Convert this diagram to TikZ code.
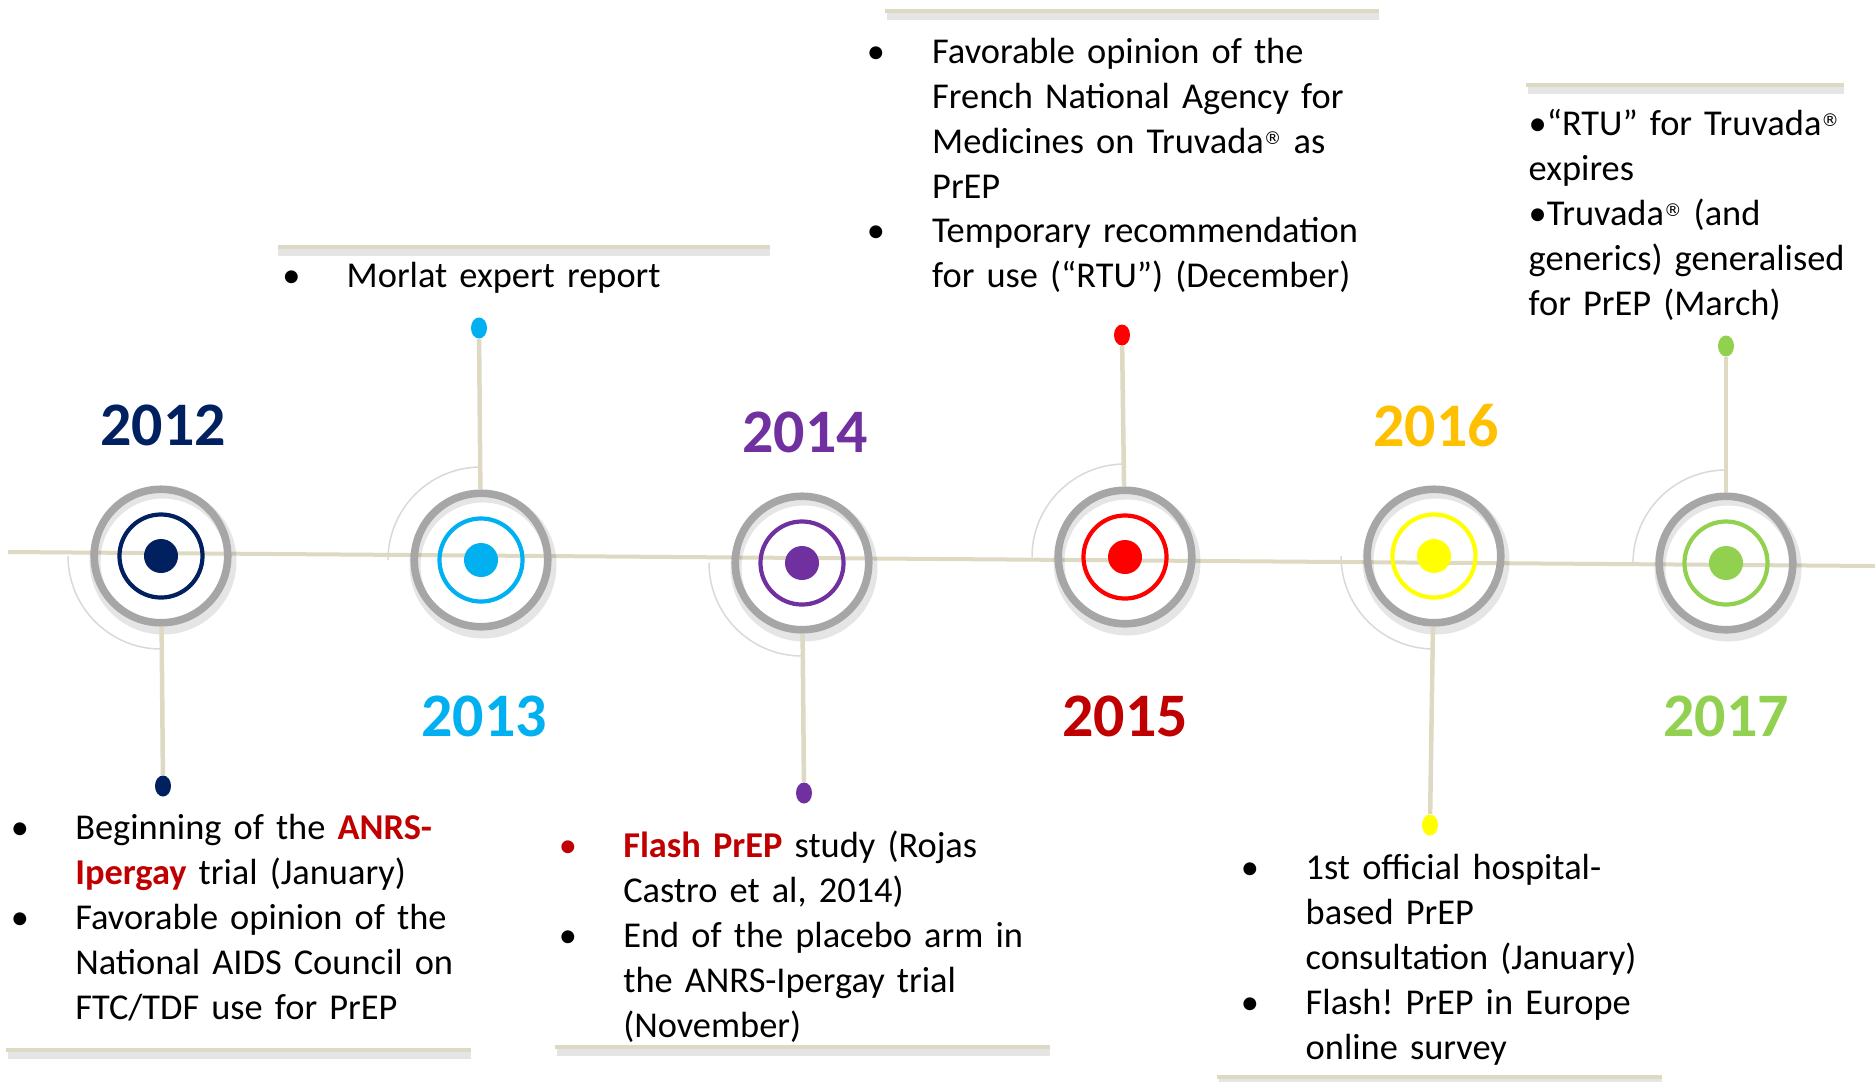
\documentclass[tikz,border=0pt]{standalone}
\usepackage{fontspec}
\setmainfont{Carlito}
\newfontfamily\regfont{DejaVu Sans}
\usetikzlibrary{shapes.geometric}

\definecolor{tlbeige}{HTML}{DDD9C3}
\definecolor{ringgray}{HTML}{A6A6A6}
\definecolor{arcgray}{HTML}{D9D9D9}
\definecolor{col12}{HTML}{002060}
\definecolor{col13}{HTML}{00B0F0}
\definecolor{col14}{HTML}{7030A0}
\definecolor{col15}{HTML}{FF0000}
\definecolor{col16}{HTML}{FFFF00}
\definecolor{col17}{HTML}{92D050}
\definecolor{txt15}{HTML}{C00000}
\definecolor{txt16}{HTML}{FFC000}
\definecolor{hilite}{HTML}{C00000}

\newcommand{\regmark}{\raisebox{2.3pt}{\regfont\fontsize{5}{5}\selectfont ®}}
\newcommand{\redbold}[1]{\textcolor{hilite}{\bfseries #1}}
\frenchspacing

\begin{document}
\begin{tikzpicture}[x=0.01cm, y=-0.01cm,
    ring/.style={circle, draw=ringgray, line width=0.076cm, minimum size=1.334cm, inner sep=0pt},
    ringshade/.style={draw=black, opacity=0.10, line width=0.11cm},
    inring/.style={circle, draw=#1, line width=0.042cm, minimum size=0.83cm, inner sep=0pt},
    core/.style={circle, fill=#1, minimum size=0.34cm, inner sep=0pt},
    tipdot/.style={ellipse, fill=#1, minimum width=0.16cm, minimum height=0.21cm, inner sep=0pt},
    stem/.style={draw=tlbeige, line width=0.045cm},
    timeline/.style={draw=tlbeige, line width=0.04cm},
    halo/.style={draw=arcgray, line width=0.015cm},
    divider/.style={draw=tlbeige, line width=0.043cm},
    divshade/.style={draw=black, opacity=0.10, line width=0.07cm},
    year/.style={font=\fontsize{17.6}{20}\selectfont\bfseries, text=#1, inner sep=0pt},
    txt/.style={font=\fontsize{10.35}{12.8}\selectfont, anchor=base west, inner sep=0pt, align=left, text width=6cm},
    bul/.style={font=\fontsize{10.35}{12.8}\selectfont, anchor=base, inner sep=0pt}]
\useasboundingbox (0,0) rectangle (1875,1081);

% timeline axis
\coordinate (tlstart) at (8,552);
\coordinate (tlend) at (1875,566);
\draw[timeline] (tlstart) -- (tlend);

% quarter arcs round the rings
\draw[halo] (161,556) ++(-93,0) arc[start angle=180, end angle=90, radius=93];
\draw[halo] (481,560) ++(-93,0) arc[start angle=180, end angle=270, radius=93];
\draw[halo] (802,563) ++(-93,0) arc[start angle=180, end angle=90, radius=93];
\draw[halo] (1125,557) ++(-93,0) arc[start angle=180, end angle=270, radius=93];
\draw[halo] (1434,556) ++(-93,0) arc[start angle=180, end angle=90, radius=93];
\draw[halo] (1726,563) ++(-93,0) arc[start angle=180, end angle=270, radius=93];

% ring shadows
\draw[ringshade] (163,561) circle[radius=68];
\draw[ringshade] (483,565) circle[radius=68];
\draw[ringshade] (804,568) circle[radius=68];
\draw[ringshade] (1127,562) circle[radius=68];
\draw[ringshade] (1436,561) circle[radius=68];
\draw[ringshade] (1728,568) circle[radius=68];

% 2012
\node[ring] (ring12) at (161,556) {};
\node[inring=col12] (band12) at (ring12) {};
\node[core=col12] (hub12) at (ring12) {};
\node[year=col12] (yr12) at (163,425.5) {2012};
\node[tipdot=col12] (tip12) at (163,786) {};
\draw[stem] (ring12) -- (tip12);

% 2013
\node[ring] (ring13) at (481,560) {};
\node[inring=col13] (band13) at (ring13) {};
\node[core=col13] (hub13) at (ring13) {};
\node[year=col13] (yr13) at (484,716) {2013};
\node[tipdot=col13] (tip13) at (479,328) {};
\draw[stem] (ring13) -- (tip13);

% 2014
\node[ring] (ring14) at (802,563) {};
\node[inring=col14] (band14) at (ring14) {};
\node[core=col14] (hub14) at (ring14) {};
\node[year=col14] (yr14) at (805,432.5) {2014};
\node[tipdot=col14] (tip14) at (804,793) {};
\draw[stem] (ring14) -- (tip14);

% 2015
\node[ring] (ring15) at (1125,557) {};
\node[inring=col15] (band15) at (ring15) {};
\node[core=col15] (hub15) at (ring15) {};
\node[year=txt15] (yr15) at (1125,716) {2015};
\node[tipdot=col15] (tip15) at (1122,335) {};
\draw[stem] (ring15) -- (tip15);

% 2016
\node[ring] (ring16) at (1434,556) {};
\node[inring=col16] (band16) at (ring16) {};
\node[core=col16] (hub16) at (ring16) {};
\node[year=txt16] (yr16) at (1436,425.5) {2016};
\node[tipdot=col16] (tip16) at (1430,825) {};
\draw[stem] (ring16) -- (tip16);

% 2017
\node[ring] (ring17) at (1726,563) {};
\node[inring=col17] (band17) at (ring17) {};
\node[core=col17] (hub17) at (ring17) {};
\node[year=col17] (yr17) at (1726,716) {2017};
\node[tipdot=col17] (tip17) at (1726,346) {};
\draw[stem] (ring17) -- (tip17);

% text blocks and their rules
\draw[divshade] (8,1055) -- (471,1055);
\draw[divider] (6,1050) -- (471,1050);
\node[bul] (b12a) at (20,839) {•};
\node[txt] (t12a) at (74.6,839) {Beginning of the \redbold{ANRS-}\\\redbold{Ipergay} trial (January)};
\node[bul] (b12b) at (20,929) {•};
\node[txt] (t12b) at (74.6,929) {Favorable opinion of the\\National AIDS Council on\\FTC/TDF use for PrEP};

\draw[divshade] (278,252) -- (770,252);
\draw[divider] (278,247) -- (770,247);
\node[bul] (b13a) at (291.5,287) {•};
\node[txt] (t13a) at (346,287) {Morlat expert report};

\draw[divshade] (557,1052) -- (1050,1052);
\draw[divider] (555,1047) -- (1050,1047);
\node[bul, text=hilite] (b14a) at (568,857) {•};
\node[txt] (t14a) at (622.6,857) {\redbold{Flash PrEP} study (Rojas\\Castro et al, 2014)};
\node[bul] (b14b) at (568,947) {•};
\node[txt] (t14b) at (622.6,947) {End of the placebo arm in\\the ANRS-Ipergay trial\\(November)};

\draw[divshade] (887,16) -- (1379,16);
\draw[divider] (885,11) -- (1379,11);
\node[bul] (b15a) at (876,63) {•};
\node[txt] (t15a) at (931.5,63) {Favorable opinion of the\\French National Agency for\\Medicines on Truvada\regmark{} as\\PrEP};
\node[bul] (b15b) at (876,242) {•};
\node[txt] (t15b) at (931.5,242) {Temporary recommendation\\for use (“RTU”) (December)};

\draw[divshade] (1219,1082) -- (1662,1082);
\draw[divider] (1217,1077) -- (1662,1077);
\node[bul] (b16a) at (1250,879) {•};
\node[txt] (t16a) at (1305,879) {1st official hospital-\\based PrEP\\consultation (January)};
\node[bul] (b16b) at (1250,1014) {•};
\node[txt] (t16b) at (1305,1014) {Flash! PrEP in Europe\\online survey};

\draw[divshade] (1528,90) -- (1844,90);
\draw[divider] (1526,85) -- (1844,85);
\node[txt] (t17a) at (1528,135) {•“RTU” for Truvada\regmark\\expires\\•Truvada\regmark{} (and\\generics) generalised\\for PrEP (March)};
\end{tikzpicture}
\end{document}
